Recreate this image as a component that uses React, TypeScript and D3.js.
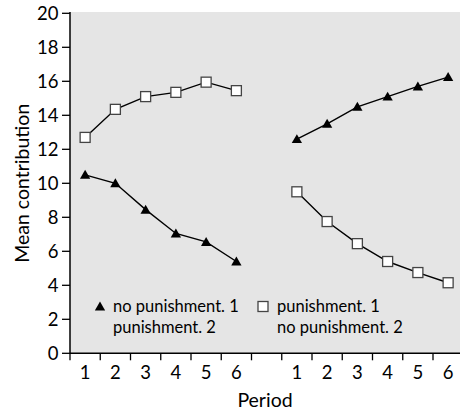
import React from "react";
import * as d3 from "d3";

// periods shown under each of the two halves
const periods = [1, 2, 3, 4, 5, 6];
const yTicks = [0, 2, 4, 6, 8, 10, 12, 14, 16, 18, 20];

// triangles: no punishment first, then punishment
const triangleFirst = [10.5, 10.0, 8.45, 7.05, 6.55, 5.4];
const triangleSecond = [12.6, 13.5, 14.5, 15.1, 15.7, 16.25];
// squares: punishment first, then no punishment
const squareFirst = [12.7, 14.35, 15.1, 15.35, 15.95, 15.45];
const squareSecond = [9.5, 7.75, 6.45, 5.4, 4.75, 4.15];

const legendTriangle = ["no punishment. 1", "punishment. 2"];
const legendSquare = ["punishment. 1", "no punishment. 2"];

const FONT = "Lato, 'Open Sans', sans-serif";

export default function App() {
    const width = 460;
    const height = 412;
    const left = 70;
    const top = 13.3;
    const bottom = 353.3;
    const step = 30.25;

    const x = d3.scaleLinear().domain([0, 13]).range([left, left + step * 13]);
    const y = d3.scaleLinear().domain([0, 20]).range([bottom, top]);

    const posFirst = (i: number) => x(periods[i] - 0.5);
    const posSecond = (i: number) => x(periods[i] + 6.5);

    const line = d3
        .line<[number, number]>()
        .x((d) => d[0])
        .y((d) => d[1]);

    const pts = (vals: number[], pos: (i: number) => number) =>
        vals.map((v, i) => [pos(i), y(v)] as [number, number]);

    const tri = d3.symbol(d3.symbolTriangle, 46)();

    const series = [
        { vals: triangleFirst, pos: posFirst, kind: "tri" },
        { vals: triangleSecond, pos: posSecond, kind: "tri" },
        { vals: squareFirst, pos: posFirst, kind: "sq" },
        { vals: squareSecond, pos: posSecond, kind: "sq" },
    ];

    const xTickIdx = d3.range(0, 13);

    const marker = (kind: string, cx: number, cy: number, key: string) =>
        kind === "tri" ? (
            <path key={key} d={tri || ""} transform={`translate(${cx},${cy + 1})`} fill="#000" />
        ) : (
            <rect key={key} x={cx - 5} y={cy - 5} width={10} height={10} fill="#fff" stroke="#444" strokeWidth={1.3} />
        );

    return (
        <svg width={width} height={height} style={{ position: "absolute", left: 0, top: 0 }} fontFamily={FONT}>
            <rect x={left} y={12} width={width - left} height={bottom - 12} fill="#e5e5e5" />

            {series.map((s, si) => (
                <path key={"l" + si} d={line(pts(s.vals, s.pos)) || ""} fill="none" stroke="#000" strokeWidth={1.4} />
            ))}
            {series.map((s, si) => pts(s.vals, s.pos).map((p, i) => marker(s.kind, p[0], p[1], `m${si}-${i}`)))}

            {/* y axis */}
            <line x1={left} x2={left} y1={12} y2={bottom + 0.7} stroke="#000" strokeWidth={1.5} />
            {yTicks.map((t) => (
                <g key={"y" + t}>
                    <line x1={left - 8} x2={left} y1={y(t)} y2={y(t)} stroke="#000" strokeWidth={1.3} />
                    <text x={58.5} y={y(t)} dy="0.36em" textAnchor="end" fontSize={18.5} fill="#000">
                        {t}
                    </text>
                </g>
            ))}

            {/* x axis */}
            <line x1={left} x2={width} y1={bottom} y2={bottom} stroke="#000" strokeWidth={1.5} />
            {xTickIdx.map((t) => (
                <line key={"xt" + t} x1={x(t)} x2={x(t)} y1={bottom} y2={bottom + 7} stroke="#000" strokeWidth={1.3} />
            ))}
            {periods.map((p, i) => (
                <g key={"xl" + p}>
                    <text x={posFirst(i)} y={378.5} textAnchor="middle" fontSize={18.5} fill="#000">
                        {p}
                    </text>
                    <text x={posSecond(i)} y={378.5} textAnchor="middle" fontSize={18.5} fill="#000">
                        {p}
                    </text>
                </g>
            ))}

            <text x={265} y={407} textAnchor="middle" fontSize={19.5} fill="#000">
                Period
            </text>
            <text
                transform={`translate(29,${(top + bottom) / 2}) rotate(-90)`}
                textAnchor="middle"
                fontSize={19.5}
                fill="#000"
            >
                Mean contribution
            </text>

            {/* legend */}
            {marker("tri", 100, 306.5, "lt")}
            {legendTriangle.map((t, i) => (
                <text key={"lt" + i} x={113} y={312} dy={i * 20.5} fontSize={16.5} fill="#000">
                    {t}
                </text>
            ))}
            {marker("sq", 263, 306.5, "ls")}
            {legendSquare.map((t, i) => (
                <text key={"ls" + i} x={277} y={312} dy={i * 20.5} fontSize={16.5} fill="#000">
                    {t}
                </text>
            ))}
        </svg>
    );
}
